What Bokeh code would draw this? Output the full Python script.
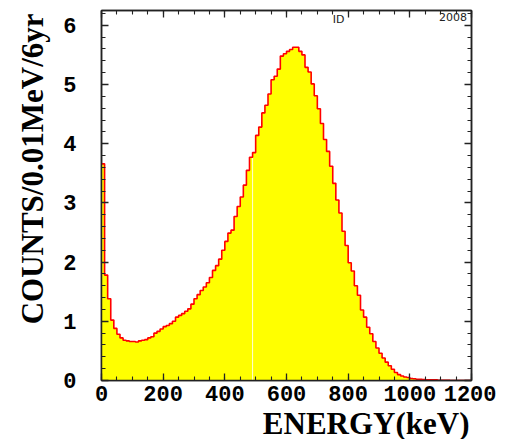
from bokeh.plotting import figure
from bokeh.models import (LinearAxis, SingleIntervalTicker, Label, Range1d, Title,
                          CustomJSTickFormatter)
from bokeh.embed import file_html
from bokeh.resources import INLINE

# ---- data: counts per 10 keV bin, 0..1200 keV ----
bin_width = 10
counts = [
    3.66, 1.78, 1.38, 1.02, 0.88, 0.78, 0.72, 0.68, 0.67, 0.66,
    0.66, 0.65, 0.67, 0.68, 0.69, 0.72, 0.74, 0.80, 0.83, 0.87,
    0.91, 0.93, 0.96, 1.00, 1.07, 1.10, 1.13, 1.17, 1.21, 1.29,
    1.38, 1.45, 1.52, 1.58, 1.65, 1.74, 1.86, 1.94, 2.05, 2.20,
    2.35, 2.49, 2.54, 2.77, 2.94, 3.10, 3.30, 3.55, 3.77, 3.85,
    4.14, 4.28, 4.52, 4.65, 4.84, 5.08, 5.14, 5.26, 5.48, 5.52,
    5.56, 5.59, 5.63, 5.63, 5.56, 5.50, 5.29, 5.21, 5.01, 4.81,
    4.59, 4.34, 4.07, 3.87, 3.62, 3.33, 3.05, 2.83, 2.52, 2.28,
    1.99, 1.85, 1.60, 1.44, 1.19, 1.07, 0.90, 0.79, 0.66, 0.55,
    0.46, 0.38, 0.31, 0.25, 0.19, 0.135, 0.10, 0.075, 0.06, 0.05,
    0.035, 0.03, 0.02, 0.02, 0.015, 0.01, 0.01, 0.01, 0.01, 0.005,
    0.005, 0.005, 0.005, 0.0, 0.0, 0.0, 0.0, 0.0, 0.0, 0.0,
]
left_edges = [i * bin_width for i in range(len(counts))]

x_title = "ENERGY(keV)"
y_title = "COUNTS/0.01MeV/6yr"
x_min, x_max = 0, 1200
y_min, y_max = 0, 6.25

p = figure(frame_width=370, frame_height=370, output_backend="svg",
           toolbar_location=None,
           x_range=Range1d(x_min, x_max), y_range=Range1d(y_min, y_max),
           min_border_left=101, min_border_right=25, min_border_top=10,
           min_border_bottom=0)
p.grid.visible = False
p.background_fill_color = "white"
p.border_fill_color = "white"
p.outline_line_color = "#222222"
p.outline_line_width = 1.5

step_x = left_edges + [left_edges[-1] + bin_width]
step_y = counts + [counts[-1]]
p.varea_step(x=step_x, y1=[0] * len(step_x), y2=step_y, step_mode="after",
             fill_color="#FFFF00")
# thin light seam seen in the fill
p.segment(x0=[left_edges[49]], y0=[0], x1=[left_edges[49]], y1=[counts[48]],
          line_color="white", line_width=1, line_alpha=0.85)
p.step(step_x, step_y, mode="after", line_color="#FF0000", line_width=1.6)

tick_font = "Liberation Mono"


def style_axis(ax, labels=True):
    ax.major_tick_in = 7
    ax.major_tick_out = 0
    ax.minor_tick_in = 4
    ax.minor_tick_out = 0
    ax.major_tick_line_color = "#222222"
    ax.minor_tick_line_color = "#222222"
    ax.major_tick_line_width = 1.3
    ax.minor_tick_line_width = 1.1
    ax.axis_line_color = "#222222"
    ax.axis_line_width = 1.5
    if labels:
        ax.major_label_text_font = tick_font
        ax.major_label_text_font_style = "bold"
        ax.major_label_text_font_size = "22px"
        ax.major_label_text_color = "black"
    else:
        ax.formatter = CustomJSTickFormatter(code="return ''")
        ax.major_label_standoff = 0


p.xaxis.ticker = SingleIntervalTicker(interval=200, num_minor_ticks=4)
p.yaxis.ticker = SingleIntervalTicker(interval=1, num_minor_ticks=5)
style_axis(p.xaxis[0])
style_axis(p.yaxis[0])
p.xaxis.major_label_standoff = 5
p.yaxis.major_label_standoff = 25
p.yaxis.major_label_orientation = "horizontal"

top_ax = LinearAxis(ticker=SingleIntervalTicker(interval=200, num_minor_ticks=4))
right_ax = LinearAxis(ticker=SingleIntervalTicker(interval=1, num_minor_ticks=5))
style_axis(top_ax, labels=False)
style_axis(right_ax, labels=False)
p.add_layout(top_ax, "above")
p.add_layout(right_ax, "right")

# axis titles: x title right-aligned, y title at the top end
p.add_layout(Title(text=x_title, align="right", text_font="Liberation Serif",
                   text_font_style="bold", text_font_size="31px",
                   text_color="black", standoff=0, offset=2), "below")
p.add_layout(Title(text=y_title, align="right", text_font="Liberation Serif",
                   text_font_style="bold", text_font_size="31px",
                   text_color="black", standoff=21, offset=3), "left")

p.add_layout(Label(x=750, y=6.2, text="ID", text_font="DejaVu Sans",
                   text_font_size="11px", text_baseline="top", text_color="#222222"))
p.add_layout(Label(x=1185, y=6.2, text="2008", text_font="DejaVu Sans",
                   text_font_size="11px", text_baseline="top", text_align="right",
                   text_color="#222222"))

open("out.html", "w").write(file_html(p, INLINE))
